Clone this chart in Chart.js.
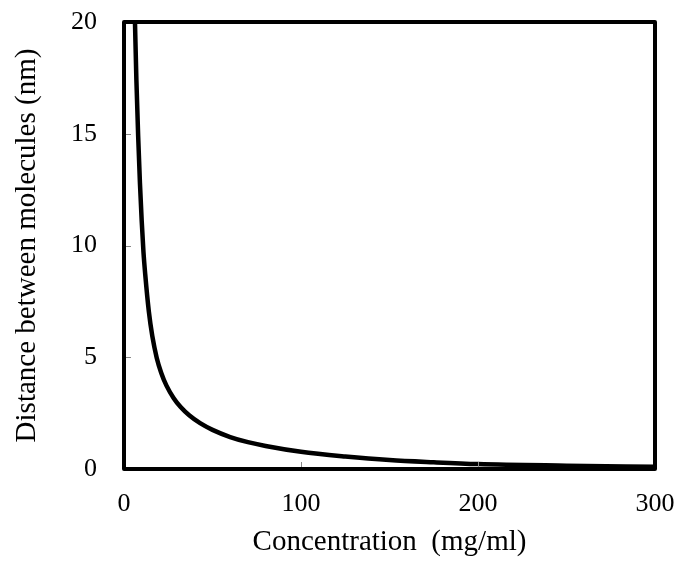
<!DOCTYPE html>
<html>
<head>
<meta charset="utf-8">
<script src="https://cdn.jsdelivr.net/npm/chart.js@4"></script>
<style>
  html, body { margin: 0; padding: 0; background: #fff; }
  #wrap { width: 677px; height: 562px; }
</style>
</head>
<body>
<div id="wrap"><canvas id="chart" width="677" height="562"></canvas></div>
<script>
// values
const concentration = [6.2, 7, 8, 9, 10, 11, 12, 14, 16, 18.5, 21, 24, 28, 32, 37, 43, 50, 60, 70, 80, 100, 125, 150, 175, 200, 250, 300];
const distance = [20, 17.4, 14.9, 12.8, 11.1, 9.7, 8.7, 7.07, 5.94, 4.97, 4.31, 3.73, 3.18, 2.77, 2.39, 2.05, 1.75, 1.43, 1.2, 1.03, 0.77, 0.56, 0.4, 0.3, 0.22, 0.15, 0.1];
const xTicks = [0, 100, 200, 300];
const yTicks = [0, 5, 10, 15, 20];

const serif = '"Liberation Serif", "Times New Roman", serif';

// frame and inward tick marks like the original plot
const framePlugin = {
  id: 'frame',
  afterDatasetsDraw(chart) {
    const { ctx, chartArea: a, scales } = chart;
    ctx.save();
    ctx.strokeStyle = '#888';
    ctx.lineWidth = 1;
    xTicks.forEach(v => {
      const x = Math.round(scales.x.getPixelForValue(v)) + 0.5;
      ctx.beginPath(); ctx.moveTo(x, a.bottom); ctx.lineTo(x, a.bottom - 7); ctx.stroke();
    });
    yTicks.forEach(v => {
      const y = Math.round(scales.y.getPixelForValue(v)) + 0.5;
      ctx.beginPath(); ctx.moveTo(a.left, y); ctx.lineTo(a.left + 7, y); ctx.stroke();
    });
    ctx.strokeStyle = '#000';
    ctx.lineWidth = 4;
    ctx.lineJoin = 'round';
    ctx.strokeRect(a.left, a.top, a.right - a.left, a.bottom - a.top);
    ctx.restore();
  }
};

new Chart(document.getElementById('chart'), {
  type: 'line',
  data: {
    datasets: [{
      data: concentration.map((c, i) => ({ x: c, y: distance[i] })),
      borderColor: '#000',
      borderWidth: 4.5,
      pointRadius: 0,
      cubicInterpolationMode: 'monotone',
      fill: false,
      clip: 0
    }]
  },
  options: {
    responsive: false,
    animation: false,
    layout: { padding: { top: 22, right: 22, left: 0, bottom: 0 } },
    plugins: { legend: { display: false }, tooltip: { enabled: false } },
    scales: {
      x: {
        type: 'linear',
        min: 0, max: 300,
        afterBuildTicks: s => { s.ticks = xTicks.map(v => ({ value: v })); },
        afterFit: s => { s.height = 93; s.paddingLeft = 0; s.paddingRight = 0; },
        grid: { display: false },
        border: { display: false },
        ticks: { color: '#000', padding: 12, font: { family: serif, size: 26 } },
        title: { display: true, text: 'Concentration  (mg/ml)', color: '#000', padding: { top: 2, bottom: 2 }, font: { family: serif, size: 29 } }
      },
      y: {
        type: 'linear',
        min: 0, max: 20,
        afterBuildTicks: s => { s.ticks = yTicks.map(v => ({ value: v })); },
        afterFit: s => { s.width = 124; s.paddingTop = 0; s.paddingBottom = 0; },
        grid: { display: false },
        border: { display: false },
        ticks: { color: '#000', padding: 19, font: { family: serif, size: 26 } },
        title: { display: true, text: 'Distance between molecules (nm)', color: '#000', padding: { top: 10, bottom: 0 }, font: { family: serif, size: 29 } }
      }
    }
  },
  plugins: [framePlugin]
});
</script>
</body>
</html>
